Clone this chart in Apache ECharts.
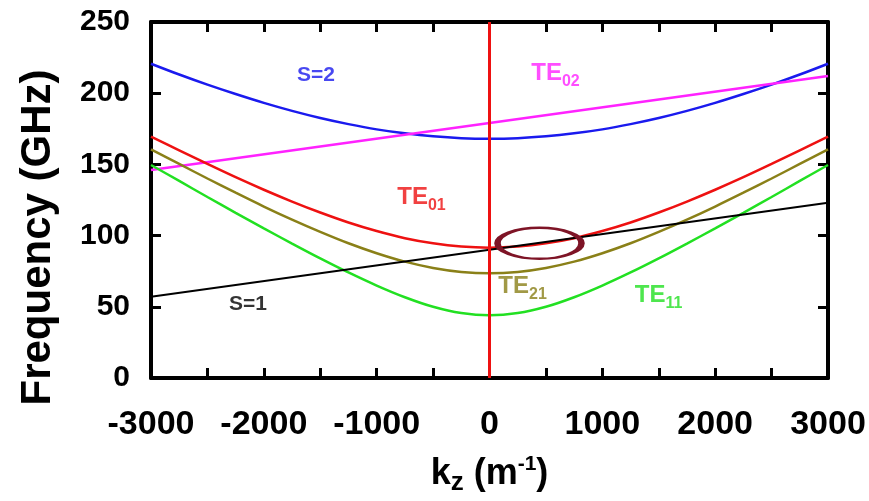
<!DOCTYPE html>
<html>
<head>
<meta charset="utf-8">
<title>Dispersion diagram</title>
<script src="https://cdn.jsdelivr.net/npm/echarts@6/dist/echarts.min.js"></script>
<style>
  html, body { margin: 0; padding: 0; background: #ffffff; }
  #chart { width: 869px; height: 501px; }
</style>
</head>
<body>
<div id="chart"></div>
<script>
// Axial wavenumber samples (m^-1)
const kz = [-3000, -2750, -2500, -2250, -2000, -1750, -1500, -1250, -1000, -750, -500, -250, 0,
            250, 500, 750, 1000, 1250, 1500, 1750, 2000, 2250, 2500, 2750, 3000];

// Waveguide mode dispersion curves (GHz) sampled at kz
const curveS2   = [220.7, 213.1, 206.0, 199.4, 193.2, 187.6, 182.6, 178.3, 174.6, 171.8, 169.7, 168.4, 168,
                   168.4, 169.7, 171.8, 174.6, 178.3, 182.6, 187.6, 193.2, 199.4, 206.0, 213.1, 220.7];
const curveTE01 = [169.5, 159.9, 150.3, 141.0, 132.2, 123.9, 116.2, 109.2, 103.2, 98.2, 94.6, 92.3, 91.5,
                   92.3, 94.6, 98.2, 103.2, 109.2, 116.2, 123.9, 132.2, 141.0, 150.3, 159.9, 169.5];
const curveTE21 = [160.5, 150.3, 140.1, 130.1, 120.4, 111.2, 102.6, 94.6, 87.6, 81.7, 77.3, 74.5, 73.5,
                   74.5, 77.3, 81.7, 87.6, 94.6, 102.6, 111.2, 120.4, 130.1, 140.1, 150.3, 160.5];
const curveTE11 = [149.6, 138.4, 127.1, 116.0, 105.1, 94.4, 84.0, 74.1, 64.9, 56.7, 50.0, 45.6, 44,
                   45.6, 50.0, 56.7, 64.9, 74.1, 84.0, 94.4, 105.1, 116.0, 127.1, 138.4, 149.6];

// Beam-mode lines (GHz) at the kz end points
const lineKz = [-3000, 3000];
const lineS1 = [57, 123];
const lineTE02 = [146, 212];

// Interaction region marker (kz, GHz)
const markerPoint = [443, 94.6];

// Curve labels: text pieces, anchor kz, anchor frequency
const labelMain = ['S=2', 'TE', 'TE', 'TE', 'TE', 'S=1'];
const labelSub  = ['', '02', '01', '21', '11', ''];
const labelKz   = [-1538, 585, -603, 293, 1498, -2140];
const labelFreq = [212.5, 214, 126.5, 64, 58, 52];

// Axis tick labels
const xTicks = [-3000, -2000, -1000, 0, 1000, 2000, 3000];
const yTicks = [0, 50, 100, 150, 200, 250];

const COLORS = {
  s2: '#1a1aee',
  te02: '#ff22ff',
  te01: '#ee1111',
  te21: '#8a8018',
  te11: '#22e022',
  s1: '#000000',
  marker: '#7e1426'
};
const labelColors = [COLORS.s2, COLORS.te02, COLORS.te01, COLORS.te21, COLORS.te11, COLORS.s1];

const FONT = '"Liberation Sans", Arial, sans-serif';

const pairs = (xs, ys) => xs.map((x, i) => [x, ys[i]]);

function curve(name, xs, ys, color, width, smooth) {
  return {
    name, type: 'line', data: pairs(xs, ys), smooth: smooth,
    symbol: 'none', silent: true,
    lineStyle: { color, width },
    z: 3
  };
}

const chart = echarts.init(document.getElementById('chart'), null, { renderer: 'canvas' });

const tickAxisCommon = {
  axisLine: { show: true, onZero: false, lineStyle: { color: '#000', width: 4 } },
  axisTick: { show: true, inside: true, length: 10, lineStyle: { color: '#000', width: 3 } },
  splitLine: { show: false }
};

const labelSeries = {
  type: 'scatter',
  silent: true,
  symbolSize: 1,
  itemStyle: { color: 'transparent' },
  z: 6,
  data: labelMain.map((t, i) => ({
    value: [labelKz[i], labelFreq[i]],
    label: {
      show: true,
      position: 'inside',
      formatter: labelSub[i] ? '{m|' + t + '}{s|' + labelSub[i] + '}' : '{n|' + t + '}',
      rich: {
        m: { fontFamily: FONT, fontWeight: 'bold', fontSize: 24, color: labelColors[i] },
        s: { fontFamily: FONT, fontWeight: 'bold', fontSize: 16, color: labelColors[i], padding: [16, 0, 0, 0] },
        n: { fontFamily: FONT, fontWeight: 'bold', fontSize: 21, color: labelColors[i] }
      }
    }
  }))
};

chart.setOption({
  animation: false,
  backgroundColor: '#ffffff',
  grid: { left: 151, right: 41, top: 22, bottom: 116, containLabel: false },
  xAxis: [
    Object.assign({
      type: 'value', min: -3000, max: 3000, interval: 500, position: 'bottom',
      axisLabel: {
        show: true, margin: 30, color: '#000', fontFamily: FONT, fontWeight: 'bold', fontSize: 34,
        formatter: v => (xTicks.indexOf(v) >= 0 ? String(v) : '')
      },
      name: 'k{sub|z} (m{sup|-1})',
      nameLocation: 'middle',
      nameGap: 74,
      nameTextStyle: {
        color: '#000', fontFamily: FONT, fontWeight: 'bold', fontSize: 36,
        rich: {
          sub: { color: '#000', fontFamily: FONT, fontWeight: 'bold', fontSize: 26, padding: [18, 0, 0, 0] },
          sup: { color: '#000', fontFamily: FONT, fontWeight: 'bold', fontSize: 21, padding: [0, 0, 20, 0] }
        }
      }
    }, tickAxisCommon),
    Object.assign({
      type: 'value', min: -3000, max: 3000, interval: 500, position: 'top',
      axisLabel: { show: false }
    }, tickAxisCommon)
  ],
  yAxis: [
    Object.assign({
      type: 'value', min: 0, max: 250, interval: 50, position: 'left',
      axisLabel: {
        show: true, margin: 21, color: '#000', fontFamily: FONT, fontWeight: 'bold', fontSize: 30,
        padding: [6, 0, 0, 0],
        formatter: v => (yTicks.indexOf(v) >= 0 ? String(v) : '')
      }
    }, tickAxisCommon),
    Object.assign({
      type: 'value', min: 0, max: 250, interval: 50, position: 'right',
      axisLabel: { show: false }
    }, tickAxisCommon)
  ],
  graphic: [{
    type: 'text',
    style: {
      text: 'Frequency (GHz)',
      font: 'bold 42px ' + FONT,
      fill: '#000',
      textAlign: 'center',
      textVerticalAlign: 'middle'
    },
    rotation: Math.PI / 2,
    x: 38, y: 237.5,
    silent: true
  }],
  series: [
    curve('S=2', kz, curveS2, COLORS.s2, 2.5, 0.3),
    curve('TE02', lineKz, lineTE02, COLORS.te02, 2.5, false),
    curve('TE11', kz, curveTE11, COLORS.te11, 2.5, 0.3),
    curve('TE21', kz, curveTE21, COLORS.te21, 2.5, 0.3),
    curve('TE01', kz, curveTE01, COLORS.te01, 2.5, 0.3),
    Object.assign(curve('S=1', lineKz, lineS1, COLORS.s1, 2, false), {
      markLine: {
        silent: true, symbol: 'none', label: { show: false },
        lineStyle: { color: '#ee1111', width: 3, type: 'solid', opacity: 1 },
        data: [{ xAxis: 0 }]
      }
    }),
    {
      type: 'scatter', silent: true, z: 5,
      data: [markerPoint],
      symbol: 'circle', symbolSize: [84, 31],
      itemStyle: { color: 'transparent', borderColor: COLORS.marker, borderWidth: 4, opacity: 1 }
    },
    labelSeries
  ]
});
</script>
</body>
</html>
